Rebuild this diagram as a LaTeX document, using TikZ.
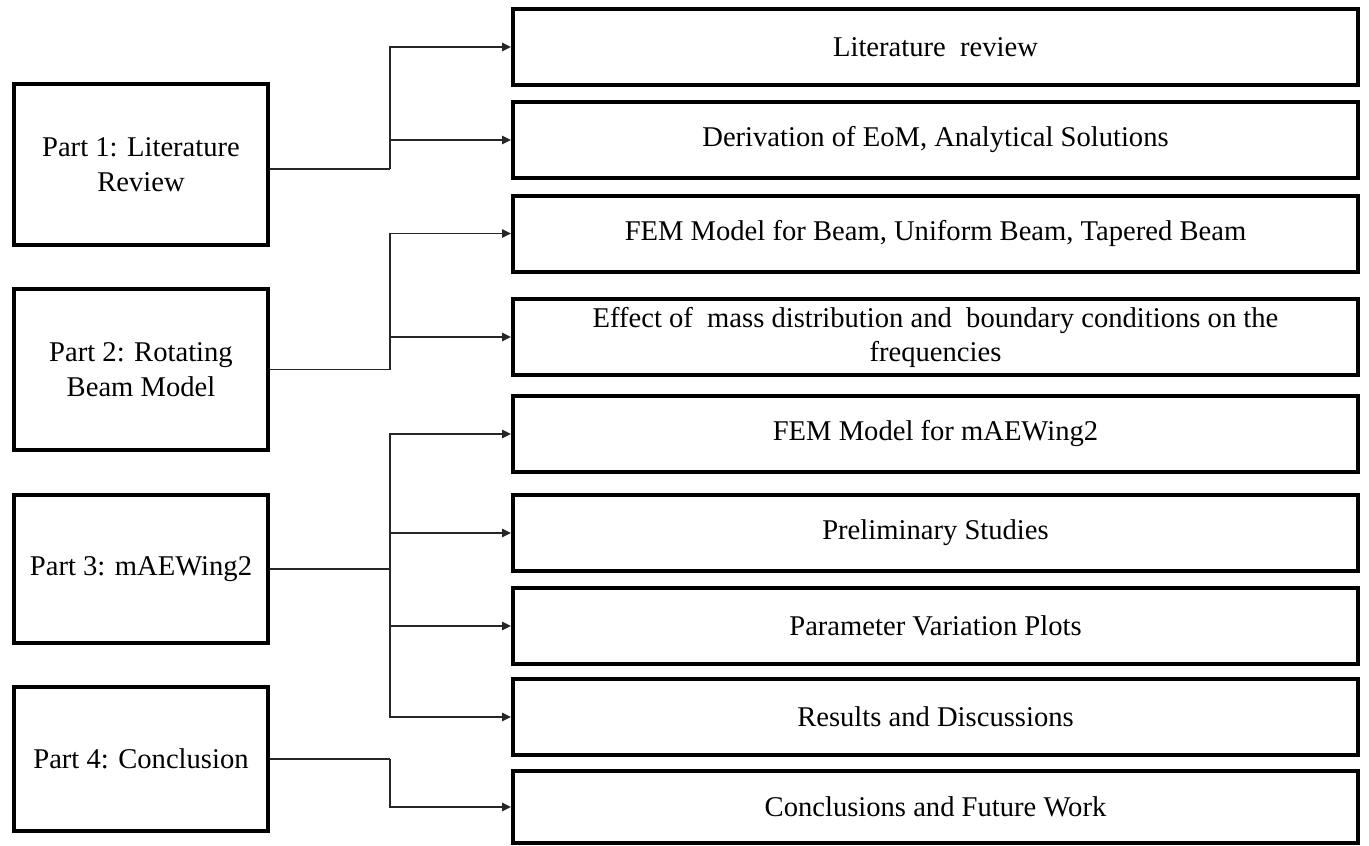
\documentclass[tikz,border=0pt]{standalone}
\usepackage{fontspec}
\setmainfont{Liberation Serif}
\usetikzlibrary{arrows.meta}
\begin{document}
\begin{tikzpicture}[x=1pt,y=-1pt,
  partbox/.style={draw=black,line width=4pt,minimum width=254pt,inner sep=0pt,
    align=center,font=\fontsize{28.6}{34.5}\selectfont},
  taskbox/.style={draw=black,line width=4pt,minimum width=845pt,minimum height=76pt,
    inner sep=0pt,align=center,font=\fontsize{28.6}{34}\selectfont},
  link/.style={draw=black!85,line width=1.5pt},
  arr/.style={link,-{Triangle[length=9pt,width=8.5pt]}}]
\useasboundingbox (0,0) rectangle (1369,846);

% parts on the left
\node[partbox,minimum height=161pt] (p1) at (141,164.5) {Part 1: Literature\\Review};
\node[partbox,minimum height=161pt] (p2) at (141,369.5) {Part 2: Rotating\\Beam Model};
\node[partbox,minimum height=148pt] (p3) at (141,569) {Part 3: mAEWing2};
\node[partbox,minimum height=144pt] (p4) at (141,759) {Part 4: Conclusion};

% chapters on the right
\node[taskbox] (r1) at (935.5,47)  {Literature\ \ review};
\node[taskbox] (r2) at (935.5,140) {Derivation of EoM, Analytical Solutions};
\node[taskbox] (r3) at (935.5,233.5) {FEM Model for Beam, Uniform Beam, Tapered Beam};
\node[taskbox] (r4) at (935.5,337) {Effect of\ \ mass distribution and\ \ boundary conditions on the\\frequencies};
\node[taskbox] (r5) at (935.5,434) {FEM Model for mAEWing2};
\node[taskbox] (r6) at (935.5,533) {Preliminary Studies};
\node[taskbox] (r7) at (935.5,626) {Parameter Variation Plots};
\node[taskbox] (r8) at (935.5,717) {Results and Discussions};
\node[taskbox,minimum height=72pt] (r9) at (935.5,807) {Conclusions and Future Work};

% branch points
\coordinate (j1) at (390,169);
\coordinate (j2) at (390,369.5);
\coordinate (j3) at (390,569);
\coordinate (j4) at (390,759);

% Part 1
\draw[link] (p1.east |- j1) -- (j1);
\draw[arr] (j1) |- (r1.west);
\draw[arr] (j1 |- r2.west) -- (r2.west);
% Part 2
\draw[link] (p2.east) -- (j2);
\draw[arr] (j2) |- (r3.west);
\draw[arr] (j2 |- r4.west) -- (r4.west);
% Part 3
\draw[link] (p3.east) -- (j3);
\draw[arr] (j3) |- (r5.west);
\draw[arr] (j3) |- (r8.west);
\draw[arr] (j3 |- r6.west) -- (r6.west);
\draw[arr] (j3 |- r7.west) -- (r7.west);
% Part 4
\draw[link] (p4.east) -- (j4);
\draw[arr] (j4) |- (r9.west);
\end{tikzpicture}
\end{document}
